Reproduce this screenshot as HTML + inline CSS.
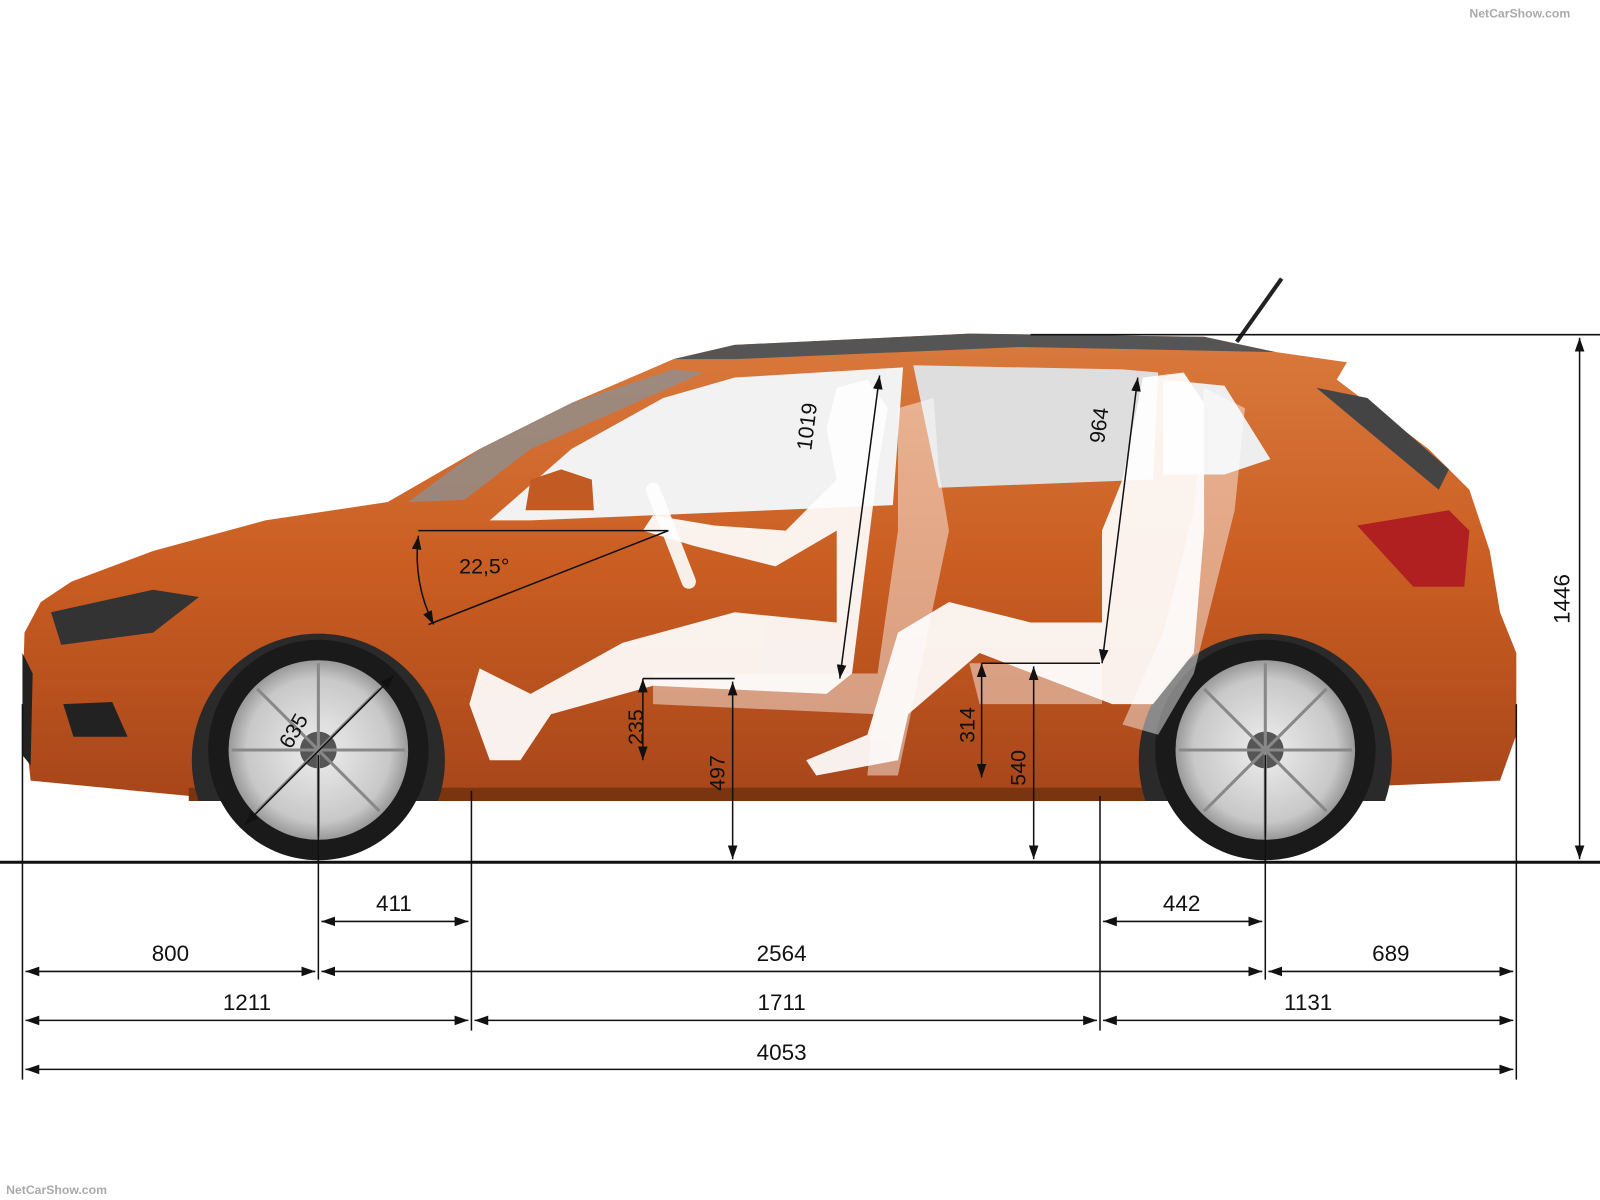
<!DOCTYPE html>
<html><head><meta charset="utf-8"><style>
html,body{margin:0;padding:0;background:#fff;}
svg{display:block}
text{font-family:"Liberation Sans",sans-serif;fill:#111;}
</style></head><body>
<svg width="1600" height="1200" viewBox="0 0 1568 1176" xmlns="http://www.w3.org/2000/svg">
<defs>
<marker id="a" viewBox="0 0 10 10" refX="10" refY="5" markerWidth="9" markerHeight="9" orient="auto-start-reverse"><path d="M0,1.5 L10,5 L0,8.5 z" fill="#111"/></marker>
<linearGradient id="body" x1="0" y1="0" x2="0" y2="1">
<stop offset="0" stop-color="#da7a3e"/><stop offset="0.5" stop-color="#ca5e22"/><stop offset="1" stop-color="#a8461a"/></linearGradient>
<radialGradient id="rim"><stop offset="0" stop-color="#eee"/><stop offset="0.8" stop-color="#c8c8c8"/><stop offset="1" stop-color="#999"/></radialGradient>
<clipPath id="ac"><rect x="0" y="0" width="1568" height="785"/></clipPath>
</defs>
<rect width="1568" height="1176" fill="#fff"/>
<text x="1440" y="17" font-size="12" font-weight="bold" style="fill:#aaa">NetCarShow.com</text>
<text x="6" y="1170" font-size="12" font-weight="bold" style="fill:#aaa">NetCarShow.com</text>

<line x1="1212" y1="335" x2="1256" y2="273" stroke="#222" stroke-width="4"/>
<path d="M30,765 L22,690 L24,620 L40,590 L70,570 L150,540 L260,510 L380,492 L470,440 L560,395 L660,352 L720,338 L950,327 L1180,330 L1250,345 L1320,355 L1310,372 L1400,440 L1440,480 L1460,540 L1470,600 L1486,640 L1486,720 L1470,765 L1355,770 L1125,780 L460,780 L185,780 Z" fill="url(#body)"/>
<path d="M660,352 L720,338 L950,327 L1180,330 L1250,345 L1000,340 L720,352 Z" fill="#555"/>
<path d="M400,492 L470,440 L560,395 L660,362 L690,365 L520,440 L455,490 Z" fill="#8e8e8e" opacity="0.8"/>
<path d="M480,510 L560,440 L650,390 L720,370 L885,360 L875,495 L520,510 Z" fill="#f2f2f2"/>
<path d="M895,358 L1100,362 L1135,365 L1130,470 L920,478 Z" fill="#dedede"/>
<path d="M1140,372 L1200,378 L1245,450 L1200,465 L1140,465 Z" fill="#eee"/>
<path d="M1290,380 L1340,390 L1420,460 L1410,480 Z" fill="#444"/>
<path d="M515,500 L520,470 L550,460 L580,470 L582,500 Z" fill="#c25a24"/>
<path d="M1330,515 L1420,500 L1440,520 L1435,575 L1385,575 Z" fill="#b02020"/>
<path d="M50,600 L150,578 L195,585 L150,620 L60,632 Z" fill="#333"/>
<path d="M62,690 L110,688 L125,722 L72,722 Z" fill="#222"/>
<path d="M22,640 L32,660 L30,750 L22,740 Z" fill="#222"/>
<path d="M185,772 L1125,772 L1125,785 L185,785 Z" fill="#7a3410"/>
<g clip-path="url(#ac)">
<circle cx="312" cy="745" r="124" fill="#2a2a2a"/>
<circle cx="1240" cy="745" r="124" fill="#2a2a2a"/>
</g>
<g>
<circle cx="312" cy="735" r="108" fill="#1a1a1a"/>
<circle cx="312" cy="735" r="88" fill="url(#rim)"/>
<circle cx="312" cy="735" r="18" fill="#555"/>
<circle cx="1240" cy="735" r="108" fill="#1a1a1a"/>
<circle cx="1240" cy="735" r="88" fill="url(#rim)"/>
<circle cx="1240" cy="735" r="18" fill="#555"/>
<g stroke="#888" stroke-width="3">
<line x1="312" y1="650" x2="312" y2="820"/><line x1="227" y1="735" x2="397" y2="735"/>
<line x1="252" y1="675" x2="372" y2="795"/><line x1="372" y1="675" x2="252" y2="795"/>
<line x1="1240" y1="650" x2="1240" y2="820"/><line x1="1155" y1="735" x2="1325" y2="735"/>
<line x1="1180" y1="675" x2="1300" y2="795"/><line x1="1300" y1="675" x2="1180" y2="795"/>
</g>
</g>
<g fill="#fff" opacity="0.92">
<path d="M820,380 L850,372 L870,400 L860,460 L835,660 L810,680 L640,672 L540,700 L510,745 L480,745 L460,690 L470,655 L520,680 L610,630 L720,600 L820,610 L820,520 L760,555 L680,535 L630,520 L640,505 L700,515 L770,520 L820,470 L810,420 Z"/>
<path d="M1120,370 L1160,365 L1180,395 L1180,520 L1170,640 L1130,690 L1090,690 L960,640 L890,700 L880,745 L800,760 L790,745 L850,720 L880,620 L930,590 L1010,610 L1080,610 L1080,520 L1100,470 L1110,420 Z"/>
</g>
<g fill="#fff" opacity="0.45">
<path d="M880,400 L915,390 L920,460 L930,520 L880,760 L850,760 L860,660 L880,520 Z"/>
<path d="M1180,380 L1220,400 L1210,500 L1170,660 L1135,720 L1100,710 L1140,620 L1170,500 Z"/>
<path d="M640,660 L860,660 L860,700 L640,690 Z"/>
<path d="M950,650 L1080,650 L1080,690 L960,690 Z"/>
</g>
<line x1="640" y1="480" x2="675" y2="570" stroke="#fff" stroke-width="14" stroke-linecap="round" opacity="0.9"/>

<g stroke="#111" stroke-width="1.5" fill="none">
<line x1="862" y1="368" x2="823" y2="665" marker-start="url(#a)" marker-end="url(#a)"/>
<line x1="1115" y1="370" x2="1080" y2="650" marker-start="url(#a)" marker-end="url(#a)"/>
<path d="M410,525 A150,150 0 0 0 425,612" marker-start="url(#a)" marker-end="url(#a)"/>
<line x1="410" y1="520" x2="655" y2="520"/>
<line x1="420" y1="612" x2="655" y2="520"/>
<line x1="630" y1="665" x2="630" y2="745" marker-start="url(#a)" marker-end="url(#a)"/>
<line x1="630" y1="665" x2="720" y2="665"/>
<line x1="718" y1="668" x2="718" y2="842" marker-start="url(#a)" marker-end="url(#a)"/>
<line x1="962" y1="650" x2="962" y2="762" marker-start="url(#a)" marker-end="url(#a)"/>
<line x1="962" y1="650" x2="1078" y2="650"/>
<line x1="1013" y1="653" x2="1013" y2="842" marker-start="url(#a)" marker-end="url(#a)"/>
<line x1="240" y1="808" x2="386" y2="662" marker-start="url(#a)" marker-end="url(#a)"/>
</g>
<g font-size="21">
<text transform="translate(795,442) rotate(-83)">1019</text>
<text transform="translate(1082,435) rotate(-83)">964</text>
<text x="450" y="562">22,5°</text>
<text transform="translate(630,730) rotate(-90)">235</text>
<text transform="translate(710,775) rotate(-90)">497</text>
<text transform="translate(955,728) rotate(-90)">314</text>
<text transform="translate(1005,770) rotate(-90)">540</text>
<text transform="translate(285,735) rotate(-60)">635</text>
</g>

<g stroke="#111" fill="none">
<line x1="0" y1="845" x2="1568" y2="845" stroke-width="3"/>
<line x1="1010" y1="328" x2="1568" y2="328" stroke-width="1.5"/>
<line x1="1548" y1="331" x2="1548" y2="842" stroke-width="1.5" marker-start="url(#a)" marker-end="url(#a)"/>
<g stroke-width="1.5">
<line x1="22" y1="690" x2="22" y2="1058"/>
<line x1="312" y1="740" x2="312" y2="960"/>
<line x1="462" y1="775" x2="462" y2="1010"/>
<line x1="1078" y1="780" x2="1078" y2="1010"/>
<line x1="1240" y1="740" x2="1240" y2="960"/>
<line x1="1486" y1="690" x2="1486" y2="1058"/>
<line x1="315" y1="903" x2="459" y2="903" marker-start="url(#a)" marker-end="url(#a)"/>
<line x1="1081" y1="903" x2="1237" y2="903" marker-start="url(#a)" marker-end="url(#a)"/>
<line x1="25" y1="952" x2="309" y2="952" marker-start="url(#a)" marker-end="url(#a)"/>
<line x1="315" y1="952" x2="1237" y2="952" marker-start="url(#a)" marker-end="url(#a)"/>
<line x1="1243" y1="952" x2="1483" y2="952" marker-start="url(#a)" marker-end="url(#a)"/>
<line x1="25" y1="1000" x2="459" y2="1000" marker-start="url(#a)" marker-end="url(#a)"/>
<line x1="465" y1="1000" x2="1075" y2="1000" marker-start="url(#a)" marker-end="url(#a)"/>
<line x1="1081" y1="1000" x2="1483" y2="1000" marker-start="url(#a)" marker-end="url(#a)"/>
<line x1="25" y1="1048" x2="1483" y2="1048" marker-start="url(#a)" marker-end="url(#a)"/>
</g>
</g>
<g font-size="22" text-anchor="middle">
<text x="386" y="893">411</text>
<text x="1158" y="893">442</text>
<text x="167" y="942">800</text>
<text x="766" y="942">2564</text>
<text x="1363" y="942">689</text>
<text x="242" y="990">1211</text>
<text x="766" y="990">1711</text>
<text x="1282" y="990">1131</text>
<text x="766" y="1039">4053</text>
<text transform="translate(1538,587) rotate(-90)">1446</text>
</g>
</svg>
</body></html>
